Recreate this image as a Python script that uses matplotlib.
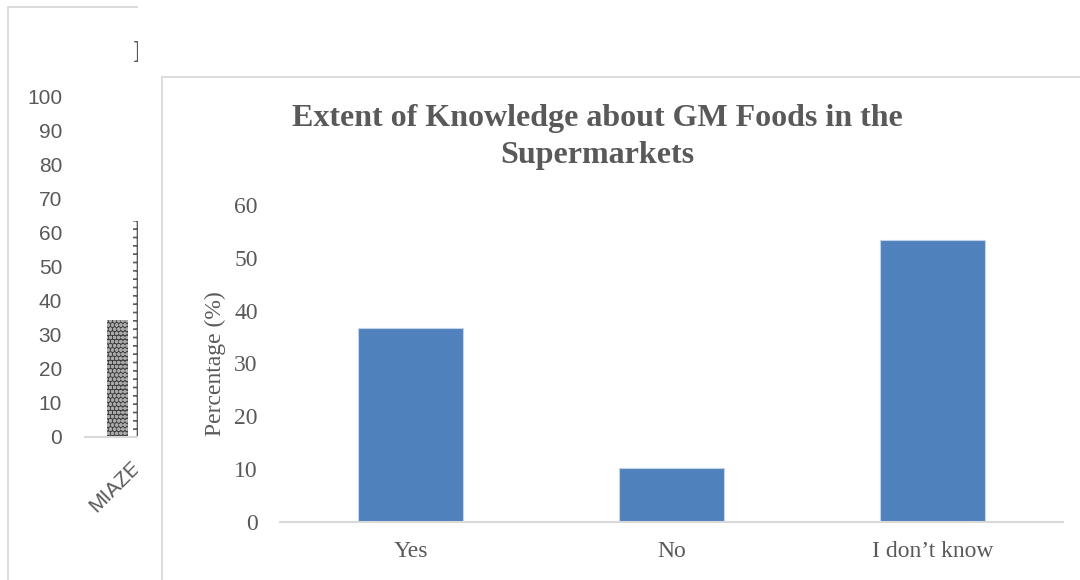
import matplotlib
matplotlib.use("Agg")
import matplotlib.pyplot as plt
from matplotlib.patches import Rectangle

# ---------------- data ----------------
bg_categories = ["MIAZE"]
bg_series_a = [34.5]
bg_series_b = [63.5]
bg_yticks = [0, 10, 20, 30, 40, 50, 60, 70, 80, 90, 100]

categories = ["Yes", "No", "I don\u2019t know"]
percentages = [36.7, 10.2, 53.3]
yticks = [0, 10, 20, 30, 40, 50, 60]
title = "Extent of Knowledge about GM Foods in the\nSupermarkets"
ylabel = "Percentage (%)"

W, H = 1080, 580
plt.rcParams["hatch.linewidth"] = 1.2

fig = plt.figure(figsize=(W / 100, H / 100), dpi=100)
fig.patch.set_facecolor("white")


def box(left, top, right, bottom):
    return [left / W, 1 - bottom / H, (right - left) / W, (bottom - top) / H]


GRID = "#D9D9D9"
TXT = "#595959"

# ---------------- background chart (partially hidden) ----------------
fig.patches.append(Rectangle((8 / W, -0.1), 1.2, 1 - 7 / H + 0.1,
                             transform=fig.transFigure, fill=False,
                             edgecolor=GRID, lw=1.3, zorder=0.2))
ax_bg = fig.add_axes(box(85, 97, 385, 436.7), zorder=0.5)
ax_bg.set_facecolor("none")
xs = list(range(len(bg_categories)))
ax_bg.bar([x - 0.13 for x in xs], bg_series_a, width=0.204,
          facecolor="#3C3C3C", edgecolor="#A8A8A8", hatch="oooo", lw=0)
ax_bg.bar([x + 0.13 for x in xs], bg_series_b, width=0.204,
          facecolor="white", edgecolor="#5A5A5A", hatch="++", lw=0)
ax_bg.set_xlim(-0.455, 2.545)
ax_bg.set_ylim(0, 100)
ax_bg.set_yticks(bg_yticks)
ax_bg.set_yticklabels([str(v) for v in bg_yticks], fontsize=15,
                      color=TXT, family="Liberation Sans")
ax_bg.set_xticks(xs)
ax_bg.set_xticklabels(bg_categories, rotation=45, ha="right",
                      rotation_mode="anchor", fontsize=15, color=TXT,
                      family="Liberation Sans")
ax_bg.tick_params(axis="y", length=0, pad=16.5)
ax_bg.tick_params(axis="x", length=0, pad=15)
for s in ["left", "right", "top"]:
    ax_bg.spines[s].set_visible(False)
ax_bg.spines["bottom"].set_color(GRID)
ax_bg.spines["bottom"].set_linewidth(1.5)
fig.text(132.5 / W, 1 - 55 / H, "I", ha="left", va="center",
         fontsize=23, fontweight="bold", color=TXT, family="Liberation Serif",
         zorder=0.6)

# white cover of the foreground picture
fig.patches.append(Rectangle((138 / W, 0), 1.0, 1.0, transform=fig.transFigure,
                             facecolor="white", edgecolor="none", zorder=1))
# foreground frame
fig.patches.append(Rectangle((162 / W, -0.1), 1.2, 1 - 77 / H + 0.1,
                             transform=fig.transFigure, fill=False,
                             edgecolor=GRID, lw=1.3, zorder=1.2))

# ---------------- foreground chart ----------------
ax = fig.add_axes(box(280, 205, 1063, 521.7), zorder=2)
ax.set_facecolor("none")
x = list(range(len(categories)))
ax.bar(x, percentages, width=0.4, color="#4F81BD", edgecolor="#C3D3EA",
       lw=0.8)
ax.set_xlim(-0.5, len(categories) - 0.5)
ax.set_ylim(0, 60)
ax.set_yticks(yticks)
ax.set_yticklabels([str(v) for v in yticks], fontsize=17, color=TXT,
                   family="Liberation Serif")
ax.set_xticks(x)
ax.set_xticklabels(categories, fontsize=17, color=TXT,
                   family="Liberation Serif")
ax.tick_params(axis="y", length=0, pad=16)
ax.tick_params(axis="x", length=0, pad=14)
for s in ["left", "right", "top"]:
    ax.spines[s].set_visible(False)
ax.spines["bottom"].set_color(GRID)
ax.spines["bottom"].set_linewidth(1.5)
ax.set_ylabel(ylabel, fontsize=17, color=TXT, family="Liberation Serif",
              labelpad=6)

fig.text(597 / W, 1 - 137 / H, title, ha="center", va="center",
         fontsize=23, fontweight="bold", color=TXT, family="Liberation Serif",
         linespacing=1.38, zorder=3)

fig.savefig("out.png", dpi=100, facecolor="white")
